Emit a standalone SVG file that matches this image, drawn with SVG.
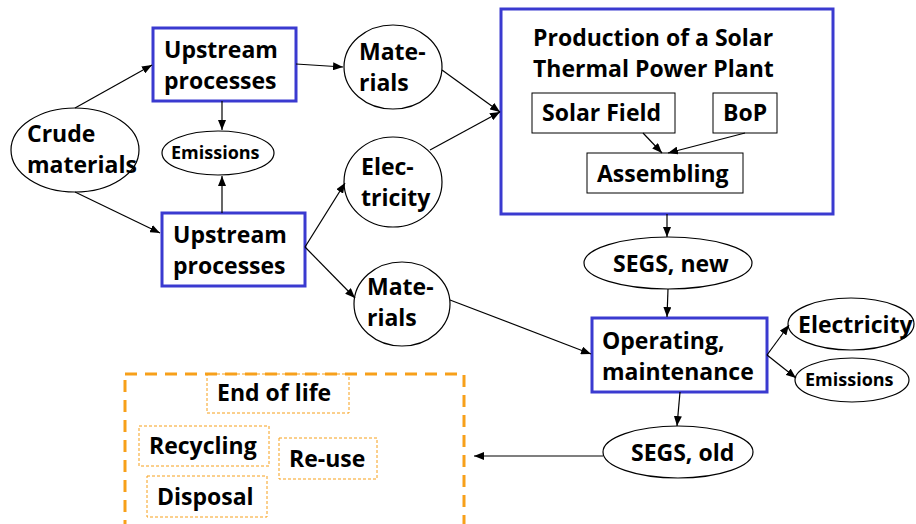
<svg xmlns="http://www.w3.org/2000/svg" width="916" height="524" viewBox="0 0 916 524">
<style>
text{font-family:"Open Sans","Noto Sans","DejaVu Sans",sans-serif;font-weight:700;font-size:23px;fill:#000}
.s{font-size:18px}
.blue{fill:#fff;stroke:#3a3ad0;stroke-width:3}
.el{fill:#fff;stroke:#000;stroke-width:1.2}
.in{fill:#fff;stroke:#000;stroke-width:1}
.od{fill:none;stroke:#f7a01a;stroke-width:1;stroke-dasharray:3,2}
.ob{fill:none;stroke:#f7a01a;stroke-width:3;stroke-dasharray:12,8}
.c line{stroke:#000;stroke-width:1.2;marker-end:url(#a)}
</style>
<defs>
<marker id="a" viewBox="0 0 10 8" refX="10" refY="4" markerWidth="10" markerHeight="8" markerUnits="userSpaceOnUse" orient="auto">
<path d="M0,0L10,4L0,8z" fill="#000"/>
</marker>
</defs>
<g id="crude"><ellipse class="el" cx="75" cy="150" rx="64" ry="42"/><text x="27" y="142">Crude</text><text x="27" y="173">materials</text></g>
<g id="up1"><rect class="blue" x="153" y="28" width="143" height="73"/><text x="164" y="58">Upstream</text><text x="164" y="89">processes</text></g>
<g id="em1"><ellipse class="el" cx="218" cy="153" rx="56" ry="22"/><text class="s" x="171" y="159">Emissions</text></g>
<g id="up2"><rect class="blue" x="162" y="213" width="143" height="73"/><text x="173" y="243">Upstream</text><text x="173" y="274">processes</text></g>
<g id="mat1"><ellipse class="el" cx="393" cy="67" rx="49" ry="42"/><text x="359" y="60">Mate-</text><text x="359" y="91">rials</text></g>
<g id="elec1"><ellipse class="el" cx="393" cy="182" rx="49" ry="45"/><text x="361" y="175">Elec-</text><text x="361" y="206">tricity</text></g>
<g id="mat2"><ellipse class="el" cx="402" cy="304" rx="48" ry="42"/><text x="367" y="295">Mate-</text><text x="367" y="326">rials</text></g>
<g id="prod"><rect class="blue" x="501" y="9" width="332" height="205"/><text x="533" y="46">Production of a Solar</text><text x="533" y="77">Thermal Power Plant</text></g>
<g id="solar"><rect class="in" x="532" y="93" width="143" height="40"/><text x="542" y="121">Solar Field</text></g>
<g id="bop"><rect class="in" x="713" y="93" width="64" height="40"/><text x="723" y="121">BoP</text></g>
<g id="asm"><rect class="in" x="587" y="153" width="156" height="40"/><text x="597" y="182">Assembling</text></g>
<g id="segsnew"><ellipse class="el" cx="668" cy="263" rx="84" ry="26"/><text x="613" y="272">SEGS, new</text></g>
<g id="op"><rect class="blue" x="592" y="318" width="175" height="74"/><text x="602" y="349">Operating,</text><text x="602" y="380">maintenance</text></g>
<g id="elec2"><ellipse class="el" cx="851" cy="324" rx="63" ry="26"/><text x="798" y="333">Electricity</text></g>
<g id="em2"><ellipse class="el" cx="852" cy="380" rx="57" ry="22"/><text class="s" x="805" y="386">Emissions</text></g>
<g id="segsold"><ellipse class="el" cx="678" cy="452" rx="75" ry="26"/><text x="631" y="461">SEGS, old</text></g>
<g id="eol">
<rect class="ob" x="125" y="374" width="339" height="160"/>
<rect class="od" x="207" y="374" width="142" height="39"/><text x="217" y="401">End of life</text>
<rect class="od" x="139" y="426" width="130" height="40"/><text x="149" y="454">Recycling</text>
<rect class="od" x="279" y="438" width="98" height="41"/><text x="289" y="467">Re-use</text>
<rect class="od" x="147" y="476" width="120" height="41"/><text x="157" y="505">Disposal</text>
</g>
<g class="c" id="connectors">
<line x1="75" y1="108" x2="152" y2="65"/>
<line x1="75" y1="192" x2="160" y2="233"/>
<line x1="222" y1="101" x2="222" y2="130"/>
<line x1="222" y1="213" x2="222" y2="176"/>
<line x1="296" y1="64" x2="343" y2="67"/>
<line x1="442" y1="70" x2="500" y2="112"/>
<line x1="430" y1="150" x2="500" y2="112"/>
<line x1="305" y1="247" x2="345" y2="183"/>
<line x1="305" y1="247" x2="355" y2="298"/>
<line x1="450" y1="300" x2="591" y2="354"/>
<line x1="667" y1="214" x2="667" y2="237"/>
<line x1="668" y1="289" x2="667" y2="317"/>
<line x1="767" y1="355" x2="789" y2="325"/>
<line x1="767" y1="355" x2="796" y2="378"/>
<line x1="680" y1="392" x2="677" y2="426"/>
<line x1="643" y1="133" x2="662" y2="153"/>
<line x1="745" y1="133" x2="668" y2="153"/>
<line x1="603" y1="456" x2="474" y2="456"/>
</g>
</svg>
